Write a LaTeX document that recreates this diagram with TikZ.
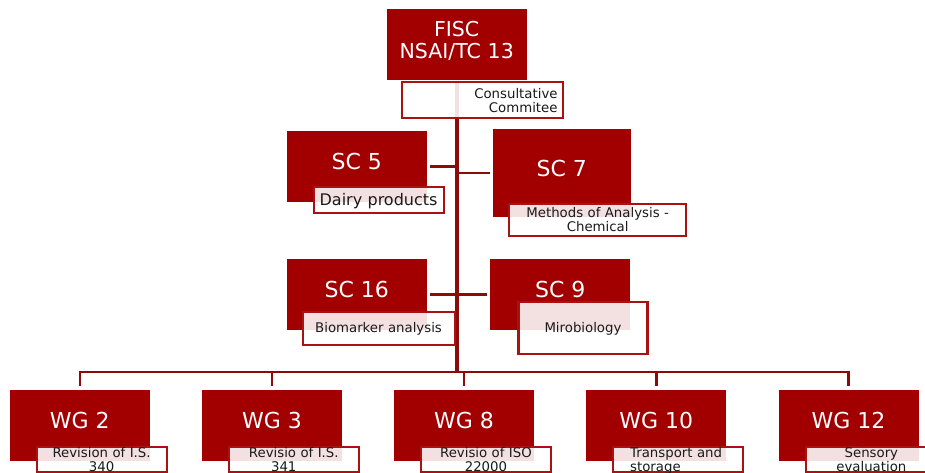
\documentclass[tikz,border=0pt]{standalone}
\usepackage{fontspec}
\setmainfont{DejaVu Sans}
\usepackage{tikz}
\definecolor{boxred}{HTML}{A20000}
\definecolor{linered}{HTML}{8C0A0A}
\definecolor{noteline}{HTML}{A81212}
\definecolor{notetext}{HTML}{1A1A1A}

\begin{document}
\begin{tikzpicture}[x=1pt,y=-1pt,
  unit/.style={fill=boxred,text=white,inner sep=0pt,minimum width=140pt,minimum height=71pt,
    font=\fontsize{22}{26}\selectfont,text height=16pt,text depth=10pt},
  note/.style={draw=noteline,line width=2.1pt,fill=white,fill opacity=0.88,text opacity=1,
    text=notetext,inner sep=0pt,anchor=north west,align=center,
    font=\fontsize{13.3}{14.2}\selectfont},
  wgnote/.style={note,text width=130pt,text height=10.7pt,text depth=14.3pt},
  link/.style={draw=linered,line width=2.4pt}]
\useasboundingbox (0,0) rectangle (925,473);

\node[unit,text width=140pt,align=center,font=\fontsize{20.5}{22.3}\selectfont,
  text height=14pt,text depth=30.6pt] (fisc) at (456.7,45) {FISC\\NSAI/TC 13};
\node[unit] (sc5) at (356.7,166.4) {SC 5};
\node[unit,minimum width=138pt,minimum height=87.4pt] (sc7) at (561.7,173) {SC 7};
\node[unit] (sc16) at (356.7,294.5) {SC 16};
\node[unit] (sc9) at (560.3,294.5) {SC 9};
\node[unit] (wg2) at (79.7,425.5) {WG 2};
\node[unit] (wg3) at (271.9,425.5) {WG 3};
\node[unit] (wg8) at (464.1,425.5) {WG 8};
\node[unit] (wg10) at (656.3,425.5) {WG 10};
\node[unit] (wg12) at (848.5,425.5) {WG 12};

% tree lines
\coordinate (bus) at (456.7,372);
\draw[link] ([xshift=3pt]sc5.east) -- (sc5.east -| bus);
\draw[link] (sc7.west -| bus) -- ([xshift=-3pt]sc7.west);
\draw[link] ([xshift=3pt]sc16.east) -- ([xshift=-3pt]sc9.west);
\draw[link] ([yshift=4pt]wg2.north) -- (wg2.north |- bus) -- (wg12.north |- bus) -- ([yshift=4pt]wg12.north);
\draw[link] ([yshift=4pt]wg3.north) -- (wg3.north |- bus);
\draw[link] ([yshift=4pt]wg8.north) -- (wg8.north |- bus);
\draw[link] ([yshift=4pt]wg10.north) -- (wg10.north |- bus);
\draw[link,line width=3.6pt] (fisc.south) -- ([yshift=-1pt]bus);

% text boxes
\node[note,text width=151pt,inner xsep=5pt,align=right,text height=16.7pt,text depth=19.6pt]
  (cons) at ([xshift=14pt]fisc.south west) {Consultative\\Commitee};
\node[note,text width=130pt,font=\fontsize{16}{18}\selectfont,text height=19pt,text depth=7.3pt]
  (dairy) at ([xshift=26pt,yshift=-55pt]sc5.north west) {Dairy products};
\node[note,text width=177pt,font=\fontsize{13.3}{14}\selectfont,text height=13.4pt,text depth=18.3pt]
  (methods) at ([xshift=15.6pt,yshift=-74pt]sc7.north west) {Methods of Analysis -\\Chemical};
\node[note,text width=152pt,text height=20.7pt,text depth=12.6pt]
  (biomarker) at ([xshift=15pt,yshift=-52pt]sc16.north west) {Biomarker analysis};
\node[note,text width=129pt,text height=31pt,text depth=21.6pt]
  (micro) at ([xshift=27.3pt,yshift=-41.7pt]sc9.north west) {Mirobiology};
\node[wgnote] (rev2) at ([xshift=26pt,yshift=-56pt]wg2.north west) {Revision of I.S.\\340};
\node[wgnote] (rev3) at ([xshift=26pt,yshift=-56pt]wg3.north west) {Revisio of I.S.\\341\hspace*{20pt}};
\node[wgnote] (rev8) at ([xshift=26pt,yshift=-56pt]wg8.north west) {Revisio of ISO\\22000};
\node[wgnote,text width=96pt,inner xsep=17pt,align=left]
  (trans) at ([xshift=26pt,yshift=-56pt]wg10.north west) {Transport and\\storage};
\node[wgnote] (sens) at ([xshift=27pt,yshift=-56pt]wg12.north west) {Sensory\\evaluation};
\end{tikzpicture}
\end{document}
